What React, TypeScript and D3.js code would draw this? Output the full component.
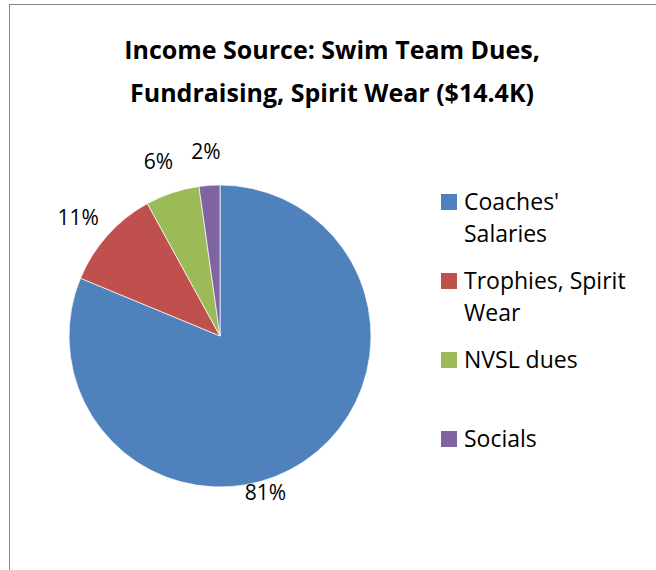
import React from "react";
import * as d3 from "d3";

const categories = ["Coaches' Salaries", "Trophies, Spirit Wear", "NVSL dues", "Socials"];
const legendLines = [["Coaches'", "Salaries"], ["Trophies, Spirit", "Wear"], ["NVSL dues"], ["Socials"]];
const values = [11700, 1550, 830, 320];
const colors = ["#4F81BD", "#C0504D", "#9BBB59", "#8064A2"];
const titleLines = ["Income Source: Swim Team Dues,", "Fundraising, Spirit Wear ($14.4K)"];

const W = 656;
const H = 570;
const FONT = "'Open Sans', sans-serif";

export default function App() {
  const cx = 220;
  const cy = 336;
  const r = 151;
  const total = d3.sum(values);
  const pie = d3.pie<number>().sort(null).value((d) => d)(values);
  const arc = d3.arc<d3.PieArcDatum<number>>().innerRadius(0).outerRadius(r);
  const legendY = d3.scalePoint<string>().domain(categories).range([210, 447]);

  const labelPos = (p: d3.PieArcDatum<number>) => {
    const big = p.endAngle - p.startAngle > Math.PI;
    const frac = big ? 0.56 : 0.45;
    const a = p.startAngle + (p.endAngle - p.startAngle) * frac;
    const lr = big ? r + 12 : r + 34;
    return [Math.sin(a) * lr, -Math.cos(a) * lr];
  };

  return (
    <svg width={W} height={H} style={{ position: "absolute", left: 0, top: 0, background: "#fff" }}>
      <rect x={9.5} y={4.5} width={700} height={700} fill="#fff" stroke="#868686" strokeWidth={1} />
      <g fontFamily={FONT} fontWeight="bold" fontSize={25} textAnchor="middle" fill="#000">
        {titleLines.map((t, i) => (
          <text key={i} x={332} y={59 + i * 43}>{t}</text>
        ))}
      </g>
      <g transform={`translate(${cx},${cy})`}>
        {pie.map((p, i) => (
          <path key={i} d={arc(p) || ""} fill={colors[i]} stroke="#fff" strokeWidth={0.7} />
        ))}
        {pie.map((p, i) => {
          const [x, y] = labelPos(p);
          return (
            <text key={"l" + i} x={x} y={y} dy="0.36em" textAnchor="middle" fontFamily={FONT} fontSize={21} fill="#000">
              {`${Math.round((p.value / total) * 100)}%`}
            </text>
          );
        })}
      </g>
      <g fontFamily={FONT} fontSize={23} fill="#000">
        {categories.map((c, i) => {
          const y = legendY(c) as number;
          return (
            <g key={c}>
              <rect x={441} y={y - 16} width={16} height={16} fill={colors[i]} />
              {legendLines[i].map((ln, j) => (
                <text key={j} x={464} y={y + j * 31.5}>{ln}</text>
              ))}
            </g>
          );
        })}
      </g>
    </svg>
  );
}
